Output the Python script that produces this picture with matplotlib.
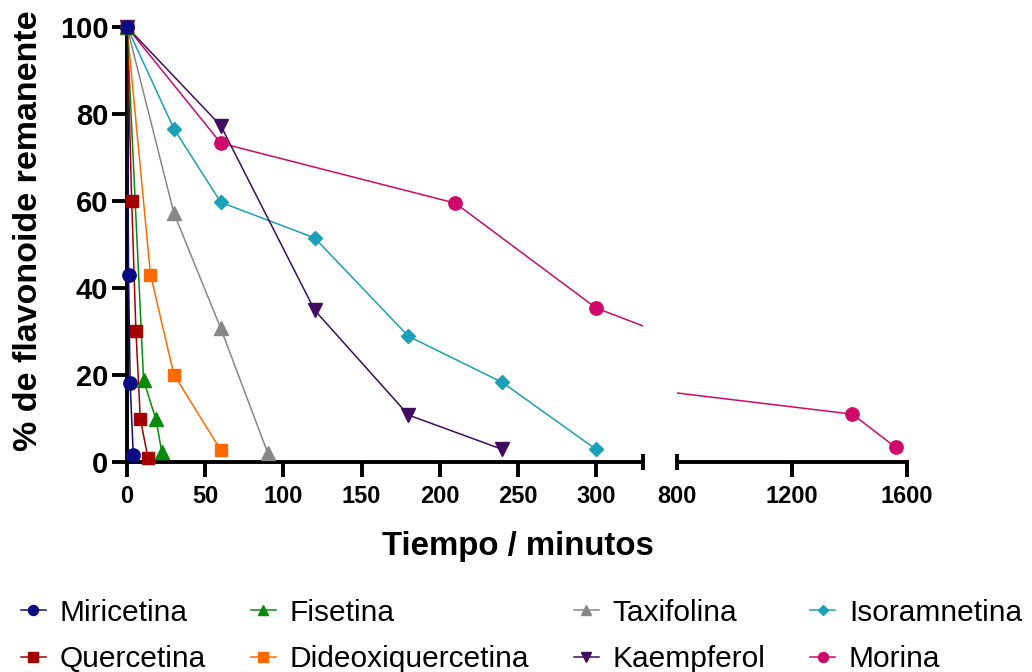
"""Flavonoid degradation curves with a broken time axis."""

import matplotlib
matplotlib.use("Agg")
import matplotlib.pyplot as plt
from matplotlib.lines import Line2D

plt.rcParams["font.family"] = ["Liberation Sans", "DejaVu Sans"]

# --- data (time in minutes, % remaining) ---
mir_t = [0, 1, 2, 4]
mir_y = [100, 43, 18.2, 1.7]

que_t = [0, 3, 5.7, 8.5, 13.4]
que_y = [100, 60, 30.2, 10, 0.9]

fis_t = [0, 10.6, 18.5, 22.3]
fis_y = [100, 18.8, 9.8, 2.2]

dide_t = [0, 15, 30, 60]
dide_y = [100, 43.1, 20.1, 2.7]

tax_t = [0, 30, 60, 90]
tax_y = [100, 57.2, 30.7, 2.1]

kae_t = [0, 60, 120, 180, 240]
kae_y = [100, 77.3, 34.9, 10.8, 2.9]

iso_t = [0, 30, 60, 120, 180, 240, 300]
iso_y = [100, 76.6, 59.7, 51.5, 28.9, 18.3, 2.9]

# the 420 min point falls inside the axis gap, only its line segments show
mor_t = [0, 60, 210, 300, 420, 1410, 1560]
mor_y = [100, 73.3, 59.5, 35.4, 18.9, 11.0, 3.4]

series = [
    ("Miricetina", mir_t, mir_y, "o", "#0b0b85", 9.6),
    ("Quercetina", que_t, que_y, "s", "#a30000", 9),
    ("Fisetina", fis_t, fis_y, "^", "#0a8a0a", 10),
    ("Dideoxiquercetina", dide_t, dide_y, "s", "#ff6a00", 9),
    ("Taxifolina", tax_t, tax_y, "^", "#878787", 10),
    ("Kaempferol", kae_t, kae_y, "v", "#3f0b5e", 10),
    ("Isoramnetina", iso_t, iso_y, "D", "#1aa0b8", 7),
    ("Morina", mor_t, mor_y, "o", "#d1086c", 9.6),
]

left_range = (0, 330)
right_range = (800, 1600)

fig = plt.figure(figsize=(10.32, 6.72), dpi=100)
ax1 = fig.add_axes([127 / 1032, 1 - 462 / 672, 516 / 1032, 435 / 672])
ax2 = fig.add_axes([677 / 1032, 1 - 462 / 672, 230 / 1032, 435 / 672])

for ax, (lo, hi) in ((ax1, left_range), (ax2, right_range)):
    ax.set_xlim(lo, hi)
    ax.set_ylim(0, 100)
    for name, t, y, mk, col, ms in reversed(series):
        ax.plot(t, y, color=col, lw=1.1, zorder=3)
        pts = [(a, b) for a, b in zip(t, y) if lo <= a <= hi]
        ax.plot([p[0] for p in pts], [p[1] for p in pts], ls="none",
                marker=mk, ms=ms, color=col, mec=col, clip_on=False, zorder=4)

spine_w = 2.8
for ax in (ax1, ax2):
    for s in ("top", "right"):
        ax.spines[s].set_visible(False)
    ax.spines["bottom"].set_linewidth(spine_w)
    ax.tick_params(axis="both", width=spine_w, length=10.5, direction="out")
    ax.tick_params(axis="x", labelsize=17, pad=6)

ax1.set_xticks(range(0, 301, 50))
ax1.set_xticklabels([str(v) for v in range(0, 301, 50)], fontweight="bold")
ax1.spines["left"].set_linewidth(spine_w)
ax1.set_yticks(range(0, 101, 20))
ax1.tick_params(axis="y", labelsize=21, pad=3)
ax1.set_yticklabels([str(v) for v in range(0, 101, 20)], fontweight="bold")

ax2.set_xticks([800, 1200, 1600])
ax2.set_xticklabels(["800", "1200", "1600"], fontweight="bold")
ax2.xaxis.get_major_ticks()[0].tick1line.set_visible(False)
ax2.spines["left"].set_visible(False)
ax2.set_yticks([])

# break caps at the ends of the gap
ax1.plot([1], [0], marker="|", ms=11, mew=spine_w, color="black",
         transform=ax1.transAxes, clip_on=False)
ax2.plot([0], [0], marker="|", ms=11, mew=spine_w, color="black",
         transform=ax2.transAxes, clip_on=False)

fig.text(518 / 1032, 1 - 547 / 672, "Tiempo / minutos", ha="center",
         va="center", fontsize=23.8, fontweight="bold")
fig.text(29 / 1032, 1 - 231 / 672, "% de flavonoide remanente", ha="center",
         va="center", rotation=90, fontsize=24.5, fontweight="bold")

handles = [Line2D([], [], color=col, lw=1.1, marker=mk, ms=ms * 0.75, mec=col)
           for _, _, _, mk, col, ms in series]
names = [s[0] for s in series]
fig.legend(handles, names, ncol=4, loc="upper left",
           bbox_to_anchor=(0.02, 0.109), frameon=False, fontsize=21.5,
           handlelength=0.85, handletextpad=0.45, columnspacing=1.5,
           labelspacing=0.62, borderaxespad=0, borderpad=0)

fig.savefig("out.png", dpi=100)
